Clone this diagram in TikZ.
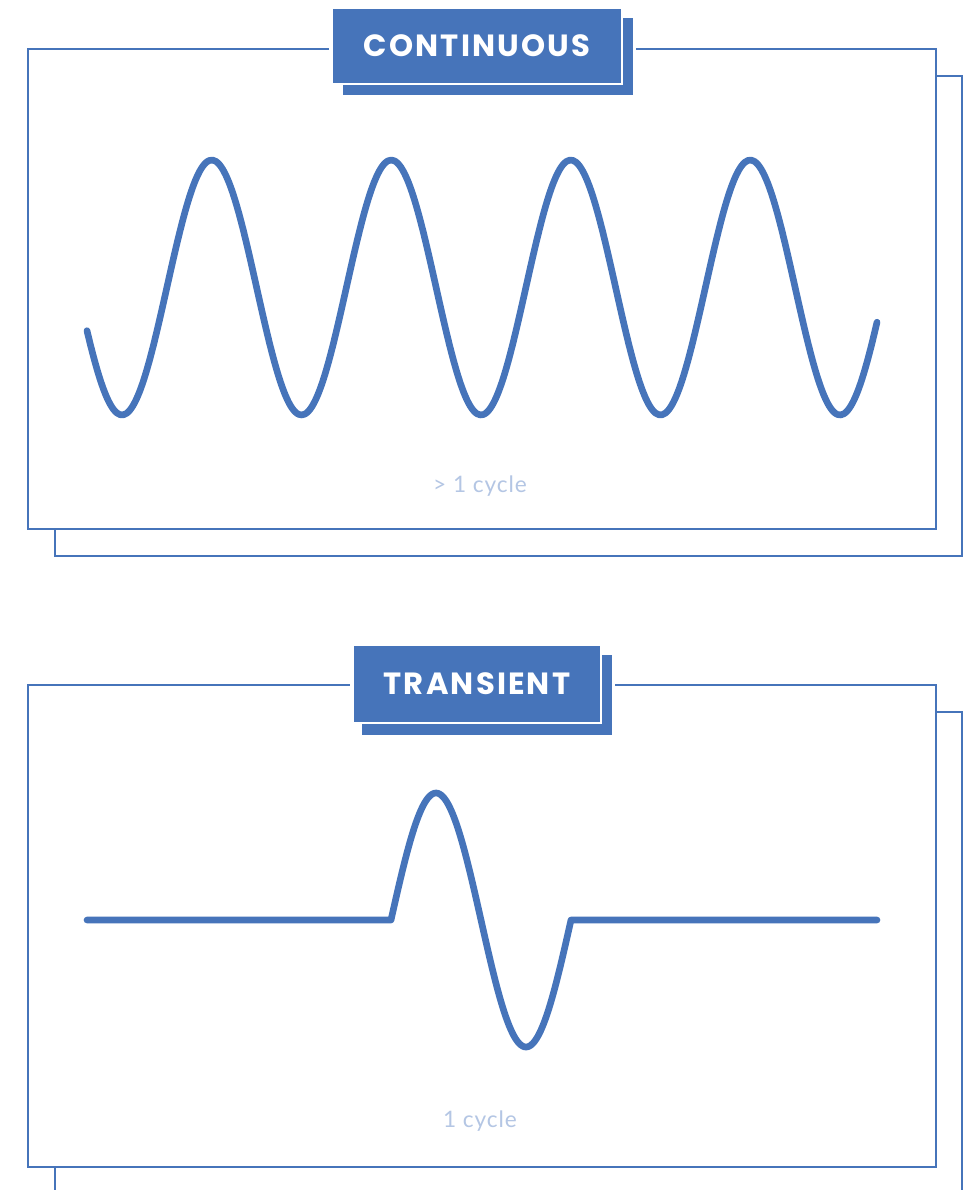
\documentclass[tikz,border=0pt]{standalone}
\usepackage{fontspec}
\usepackage{tikz}
\newfontfamily\titlefont[LetterSpace=7]{Poppins}
\newfontfamily\labelfont[LetterSpace=4]{Lato}
\usetikzlibrary{positioning}
\definecolor{colorA}{HTML}{4674BA}
\definecolor{colorL}{HTML}{B4C6E4}

\begin{document}
\begin{tikzpicture}[
  x=0.75pt, y=-0.75pt,
  panel/.style={draw=colorA, line width=1.6pt, fill=white},
  tag/.style={fill=colorA, draw=white, line width=1pt, text=white,
    font=\titlefont\bfseries\fontsize{23}{27}\selectfont,
    minimum height=57pt, inner sep=0pt},
  tagshadow/.style={fill=colorA},
  wave/.style={draw=colorA, line width=5pt, line cap=round, line join=round},
  caption/.style={text=colorL, font=\labelfont\fontsize{17}{20}\selectfont}
]
\clip (0,0) rectangle (975,1190);
\fill[white] (0,0) rectangle (975,1190);

% continuous
\draw[panel] (55,76) rectangle (962,556);
\draw[panel] (28,49) rectangle (936,529);
\fill[white] (329,40) rectangle (636,58);
\fill[tagshadow] (343,18) rectangle (633,95);
\node[tag, minimum width=217.5pt] (cont) at (477,46) {CONTINUOUS};
\draw[wave] plot[domain=87:877, samples=240, smooth]
  (\x, {287.5+127.5*cos((\x-122)/179.5*360)});
\node[caption] (contlabel) at (480,486) {> 1 cycle};

% transient
\draw[panel] (55,712) rectangle (962,1230);
\draw[panel] (28,685) rectangle (936,1167);
\fill[white] (350,676) rectangle (615,694);
\fill[tagshadow] (362,655) rectangle (612,735);
\node[tag, minimum width=186pt, minimum height=58.5pt] (trans) at (477,684) {TRANSIENT};
\draw[wave] (87,920) -- (391,920) -- plot[domain=391:571, samples=120, smooth]
  (\x, {920-127*sin((\x-391)/180*360)}) -- (877,920);
\node[caption] (translabel) at (480,1121) {1 cycle};
\end{tikzpicture}
\end{document}
